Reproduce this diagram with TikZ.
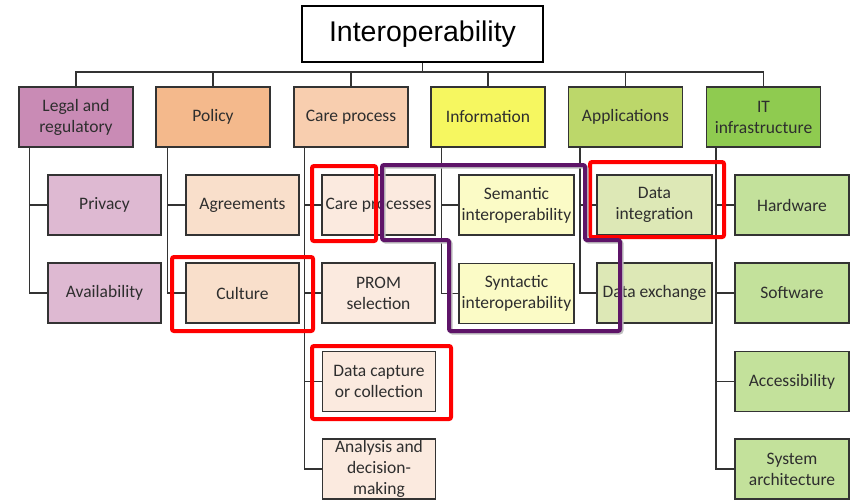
\documentclass[tikz,border=0pt]{standalone}
\usepackage{fontspec}
\setmainfont{Carlito}
\newfontfamily\titlefont{Liberation Sans}
\usetikzlibrary{positioning}
\definecolor{legalc}{HTML}{C98BB5}
\definecolor{legalk}{HTML}{DEB9D2}
\definecolor{policyc}{HTML}{F4B98C}
\definecolor{policyk}{HTML}{F9DFCB}
\definecolor{carec}{HTML}{F8CEAF}
\definecolor{carek}{HTML}{FBEADF}
\definecolor{infoc}{HTML}{F6F760}
\definecolor{infok}{HTML}{FBFBC6}
\definecolor{appc}{HTML}{BCD76A}
\definecolor{appk}{HTML}{DDE8B6}
\definecolor{itc}{HTML}{8FCB50}
\definecolor{itk}{HTML}{C3E19B}
\definecolor{txt}{HTML}{2E2E2E}
\definecolor{lin}{HTML}{333333}
\definecolor{hlred}{HTML}{FF0000}
\definecolor{hlpur}{HTML}{5E1468}
\tikzset{
  box/.style={draw=lin, line width=1.4pt, minimum width=113pt, minimum height=60pt,
    inner sep=1pt, align=center, text=txt, font=\fontsize{17.5}{21}\selectfont},
  topbox/.style={box, minimum width=114pt},
  conn/.style={draw=lin, line width=1.4pt},
  hlr/.style={draw=hlred, line width=4pt, rounded corners=2pt},
  hlp/.style={draw=hlpur, line width=4pt, rounded corners=2pt},
}
\begin{document}
\begin{tikzpicture}[x=1pt,y=-1pt]
\useasboundingbox (0,0) rectangle (852,501);
% title
\node[draw=black, line width=2pt, minimum width=241pt, minimum height=56pt, inner sep=0pt,
  font=\titlefont\fontsize{28.5}{30}\selectfont] (top) at (422.5,34) {Interoperability};
% level 1
\node[topbox, fill=legalc] (legal) at (76,117) {Legal and\\regulatory};
\node[topbox, fill=policyc] (policy) at (213,117) {Policy};
\node[topbox, fill=carec] (care) at (351,117) {Care process};
\node[topbox, fill=infoc] (info) at (488,117) {Information};
\node[topbox, fill=appc] (apps) at (625.5,117) {Applications};
\node[topbox, fill=itc] (it) at (763.5,117) {IT\\infrastructure};
% level 2
\node[box, fill=legalk] (privacy) at (104.5,205) {Privacy};
\node[box, fill=legalk] (avail) at (104.5,293) {Availability};
\node[box, fill=policyk] (agree) at (242.5,205) {Agreements};
\node[box, fill=policyk] (culture) at (242.5,293) {Culture};
\node[box, fill=carek] (carep) at (378.5,205) {Care processes};
\node[box, fill=carek] (prom) at (378.5,293) {PROM\\selection};
\node[box, fill=carek] (capture) at (379,381.5) {Data capture\\or collection};
\node[box, fill=carek] (analysis) at (379,469) {Analysis and\\decision-\\making};
\node[box, fill=infok, minimum width=115pt] (sem) at (516.5,205) {Semantic\\interoperability};
\node[box, fill=infok, minimum width=115pt] (syn) at (516.5,293.5) {Syntactic\\interoperability};
\node[box, fill=appk, minimum width=115pt] (dint) at (654.5,205) {Data\\integration};
\node[box, fill=appk, minimum width=115pt] (dex) at (654.5,293) {Data exchange};
\node[box, fill=itk, minimum width=114pt] (hw) at (792,205) {Hardware};
\node[box, fill=itk, minimum width=114pt] (sw) at (792,293) {Software};
\node[box, fill=itk, minimum width=114pt] (acc) at (792,381.5) {Accessibility};
\node[box, fill=itk, minimum width=114pt] (sys) at (792,469) {System\\architecture};
% connectors
\coordinate (bus) at (420,72);
\draw[conn] (top.south) -- (top.south |- bus);
\foreach \n in {legal,policy,care,info,apps,it}
  \draw[conn] (bus) -| (\n.north);
\draw[conn] ([xshift=11pt]legal.south west) |- (privacy.west);
\draw[conn] ([xshift=11pt]legal.south west) |- (avail.west);
\draw[conn] ([xshift=12pt]policy.south west) |- (agree.west);
\draw[conn] ([xshift=12pt]policy.south west) |- (culture.west);
\foreach \n in {carep,prom,capture,analysis}
  \draw[conn] ([xshift=11pt]care.south west) |- (\n.west);
\draw[conn] ([xshift=11pt]info.south west) |- (sem.west);
\draw[conn] ([xshift=11pt]info.south west) |- (syn.west);
\draw[conn] ([xshift=12pt]apps.south west) |- (dint.west);
\draw[conn] ([xshift=12pt]apps.south west) |- (dex.west);
\foreach \n in {hw,sw,acc,sys}
  \draw[conn] ([xshift=10pt]it.south west) |- (\n.west);
% highlights
\draw[hlr] (312,166) rectangle (376,241);
\draw[hlr] (172,257) rectangle (313,331);
\draw[hlr] (312,346) rectangle (451,419);
\draw[hlr] (590,162) rectangle (724,237);
\draw[line width=4pt, draw=black!25, rounded corners=2pt, shift={(1.5,1.5)}]
  (382,165) -- (585,165) -- (585,240) -- (620,240) -- (620,331) -- (449,331) -- (449,240) -- (382,240) -- cycle;
\draw[hlp] (382,165) -- (585,165) -- (585,240) -- (620,240) -- (620,331) -- (449,331) -- (449,240) -- (382,240) -- cycle;
\end{tikzpicture}
\end{document}
